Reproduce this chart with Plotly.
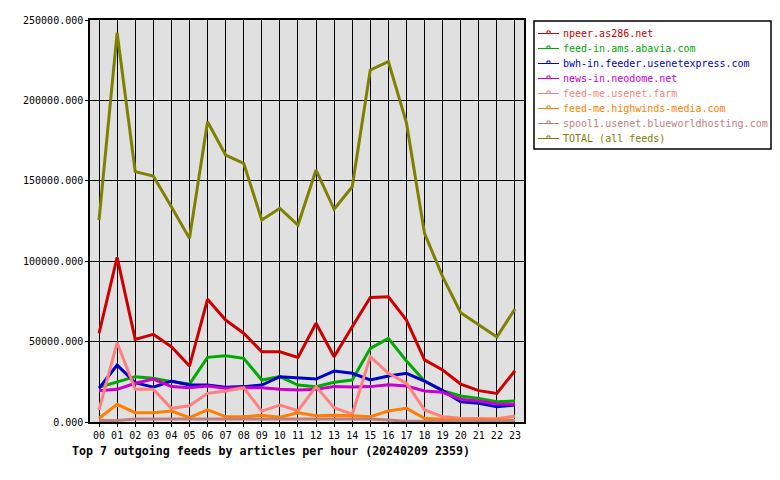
import plotly.graph_objects as go

hours = [f"{h:02d}" for h in range(24)]

names = [
    "npeer.as286.net",
    "feed-in.ams.abavia.com",
    "bwh-in.feeder.usenetexpress.com",
    "news-in.neodome.net",
    "feed-me.usenet.farm",
    "feed-me.highwinds-media.com",
    "spool1.usenet.blueworldhosting.com",
    "TOTAL (all feeds)",
]
colors = ["#cc0000", "#00aa00", "#0000cc", "#cc00cc", "#ff8080", "#ff8000", "#c08080", "#808000"]

npeer = [55200, 102400, 51400, 54500, 46800, 34800, 76300, 63400, 55200, 43700, 43700, 40200,
         61400, 40600, 59300, 77500, 77900, 63400, 38600, 32300, 23600, 19500, 17800, 31900]
abavia = [21600, 25100, 28200, 27200, 25100, 23600, 40200, 41200, 39600, 26100, 28200, 23000,
          22000, 24700, 26100, 45800, 52000, 37900, 25500, 19500, 16200, 14700, 12600, 13100]
usenetexpress = [21000, 35400, 24400, 21600, 25500, 23000, 23000, 21600, 22000, 23000, 28200, 27600,
                 26700, 31700, 30300, 26100, 28600, 30300, 25500, 19500, 12600, 11600, 9500, 10600]
neodome = [19500, 20300, 24100, 26700, 22000, 21300, 22400, 21000, 21300, 21300, 20300, 19900,
           20300, 22000, 21700, 22000, 23200, 22400, 19300, 18500, 14100, 13100, 11200, 11000]
usenetfarm = [7500, 49300, 20300, 20300, 8500, 10100, 17800, 19300, 21300, 6800, 10600, 7000,
              22000, 8900, 4800, 40600, 30300, 24100, 7500, 3300, 2300, 2000, 2000, 3700]
highwinds = [2300, 11000, 5800, 5800, 6800, 2700, 7500, 3300, 3300, 4200, 3000, 5800,
             3900, 4200, 3900, 3300, 6800, 8500, 2300, 1500, 1200, 1000, 1000, 1000]
blueworld = [1000, 1000, 1800, 1800, 1800, 1800, 1800, 1800, 1800, 1800, 1800, 1800,
             1800, 1800, 1800, 1800, 1300, 500, 500, 500, 500, 500, 500, 500]
total = [125600, 242100, 155700, 153000, 133900, 114200, 186700, 166000, 160900, 125600, 132900, 122500,
         156700, 132300, 146300, 218900, 224100, 186000, 117300, 90400, 68000, 60300, 52900, 70300]

series = [npeer, abavia, usenetexpress, neodome, usenetfarm, highwinds, blueworld, total]

FONT = "DejaVu Sans Mono"

fig = go.Figure()
for name, col, vals in zip(names, colors, series):
    fig.add_trace(go.Scatter(x=list(range(24)), y=vals, mode="lines", name=name,
                             line=dict(color=col, width=3), showlegend=False))

L, R, T, B = 90, 524, 20, 422
W, H = 780, 480

def px(p):
    return (p - L) / (R - L)

def py(p):
    return (B - p) / (B - T)

shapes = []
annotations = []
# legend box
shapes.append(dict(type="rect", xref="paper", yref="paper", x0=px(534), x1=px(771), y0=py(149), y1=py(21),
                   line=dict(color="black", width=1.5), fillcolor="white", layer="above"))
for i, (name, col) in enumerate(zip(names, colors)):
    yy = 33.5 + 15 * i
    shapes.append(dict(type="line", xref="paper", yref="paper", x0=px(538), x1=px(559), y0=py(yy), y1=py(yy),
                       line=dict(color=col, width=1), layer="above"))
    shapes.append(dict(type="rect", xref="paper", yref="paper", x0=px(547), x1=px(550), y0=py(yy), y1=py(yy - 2.5),
                       line=dict(color=col, width=1), fillcolor="white", layer="above"))
    annotations.append(dict(xref="paper", yref="paper", x=px(561), y=py(yy), xanchor="left", yanchor="middle",
                            text=name, showarrow=False, font=dict(family=FONT, size=10, color=col)))

annotations.append(dict(xref="paper", yref="paper", x=px(271), y=py(451), xanchor="center", yanchor="middle",
                        text="<b>Top 7 outgoing feeds by articles per hour (20240209 2359)</b>", showarrow=False,
                        font=dict(family=FONT, size=11.6, color="black")))

fig.update_layout(
    width=W, height=H,
    margin=dict(l=L, r=W - R, t=T, b=H - B, pad=0),
    paper_bgcolor="white", plot_bgcolor="#e0e0e0",
    shapes=shapes, annotations=annotations,
    font=dict(family=FONT, size=10, color="black"),
    showlegend=False,
)
fig.update_xaxes(range=[-0.5, 23.5], tickmode="array", tickvals=list(range(24)), ticktext=hours,
                 showgrid=True, gridcolor="black", gridwidth=1, zeroline=False,
                 showline=True, linecolor="black", linewidth=1.5, mirror=True,
                 ticks="outside", ticklen=3, tickcolor="black", tickfont=dict(family=FONT, size=10))
fig.update_yaxes(range=[0, 250000], tickmode="array", tickvals=[0, 50000, 100000, 150000, 200000, 250000],
                 tickformat=".3f", showgrid=True, gridcolor="black", gridwidth=1, zeroline=False,
                 showline=True, linecolor="black", linewidth=1.5, mirror=True,
                 ticks="outside", ticklen=3, tickcolor="black", tickfont=dict(family=FONT, size=10))

fig.write_html("out.html")
